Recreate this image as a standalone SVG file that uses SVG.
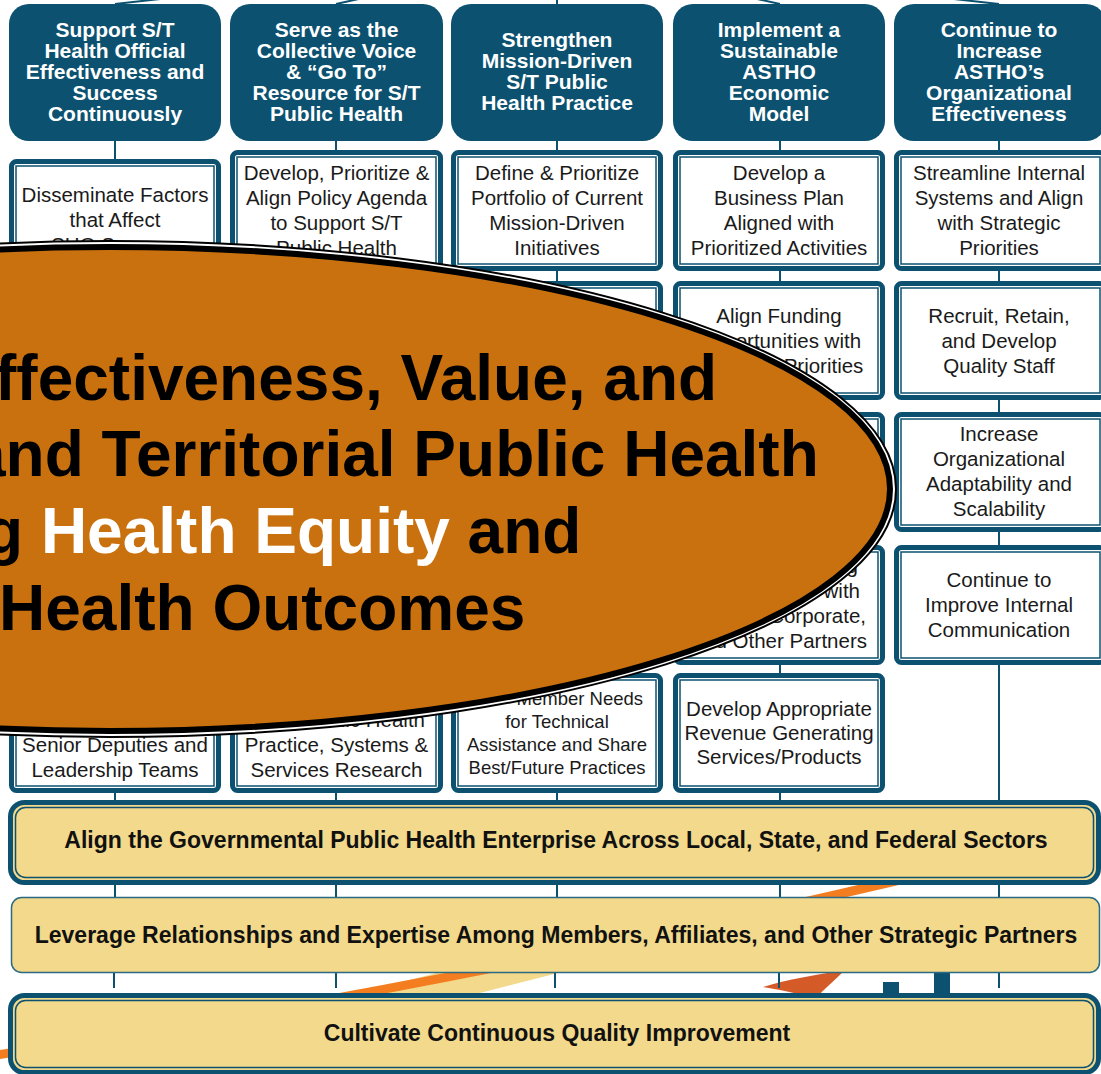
<svg xmlns="http://www.w3.org/2000/svg" width="1101" height="1074" viewBox="0 0 1101 1074">
<defs>
<style>
.hdr{fill:#0c5270;}
.ht{font-family:"Liberation Sans",Arial,sans-serif;font-weight:bold;font-size:21px;fill:#ffffff;text-anchor:middle;}
.bo{fill:#ffffff;stroke:#0c5270;stroke-width:5;}
.bi{fill:none;stroke:#0c5270;stroke-width:1.5;}
.bt{font-family:"Liberation Sans",Arial,sans-serif;font-size:20.5px;fill:#1a1a1a;text-anchor:middle;}
.bs{font-size:18.5px;}
.conn{stroke:#0c5270;stroke-width:2;fill:none;}
.bando{fill:#f2d98b;stroke:#0c5270;stroke-width:5;}
.bandi{fill:none;stroke:#0c5270;stroke-width:1.5;}
.bandt{font-family:"Liberation Sans",Arial,sans-serif;font-weight:bold;font-size:23px;fill:#111111;text-anchor:middle;}
.et{font-family:"Liberation Sans",Arial,sans-serif;font-weight:bold;font-size:64px;fill:#000000;}
</style>
</defs>
<rect width="1101" height="1074" fill="#ffffff"/>

<g id="background">
<path d="M440 972 L562 972 L468 996 L350 996 Z" fill="#f2d98b"/>
<path d="M-10 1056 Q430 990 900 880" fill="none" stroke="#f47d20" stroke-width="9"/>
<path d="M845 970 C815 975 785 980 763 987 C782 990 800 994 815 999 C825 988 835 980 845 970 Z" fill="#d45b27"/>
<rect x="883" y="982" width="16" height="16" fill="#0c5270"/>
<rect x="934" y="965" width="16" height="33" fill="#0c5270"/>
</g>

<g id="connectors">
<line class="conn" x1="115" y1="4" x2="557" y2="-45"/>
<line class="conn" x1="336" y1="4" x2="557" y2="-45"/>
<line class="conn" x1="557" y1="4" x2="557" y2="-45"/>
<line class="conn" x1="780" y1="4" x2="557" y2="-45"/>
<line class="conn" x1="999" y1="4" x2="557" y2="-45"/>
<line class="conn" x1="115" y1="141" x2="115" y2="802"/>
<line class="conn" x1="336" y1="141" x2="336" y2="802"/>
<line class="conn" x1="557" y1="141" x2="557" y2="802"/>
<line class="conn" x1="780" y1="141" x2="780" y2="802"/>
<line class="conn" x1="999" y1="141" x2="999" y2="802"/>
<line class="conn" x1="115" y1="884" x2="115" y2="898"/>
<line class="conn" x1="336" y1="884" x2="336" y2="898"/>
<line class="conn" x1="557" y1="884" x2="557" y2="898"/>
<line class="conn" x1="780" y1="884" x2="780" y2="898"/>
<line class="conn" x1="999" y1="884" x2="999" y2="898"/>
<line class="conn" x1="114" y1="973" x2="114" y2="988" stroke-width="1.5"/>
<line class="conn" x1="336" y1="973" x2="336" y2="988" stroke-width="1.5"/>
<line class="conn" x1="555" y1="973" x2="555" y2="988" stroke-width="1.5"/>
<line class="conn" x1="779" y1="973" x2="779" y2="988" stroke-width="1.5"/>
<line class="conn" x1="999" y1="973" x2="999" y2="988" stroke-width="1.5"/>
</g>

<g id="h1"><rect class="hdr" x="9" y="4" width="212" height="137" rx="20"/>
<text class="ht" x="115" y="36.5">Support S/T</text><text class="ht" x="115" y="57.5">Health Official</text><text class="ht" x="115" y="78.5">Effectiveness and</text><text class="ht" x="115" y="99.5">Success</text><text class="ht" x="115" y="120.5">Continuously</text></g>
<g id="h2"><rect class="hdr" x="230" y="4" width="213" height="137" rx="20"/>
<text class="ht" x="336.5" y="36.5">Serve as the</text><text class="ht" x="336.5" y="57.5">Collective Voice</text><text class="ht" x="336.5" y="78.5">&amp; “Go To”</text><text class="ht" x="336.5" y="99.5">Resource for S/T</text><text class="ht" x="336.5" y="120.5">Public Health</text></g>
<g id="h3"><rect class="hdr" x="451" y="4" width="212" height="137" rx="20"/>
<text class="ht" x="557" y="46.5">Strengthen</text><text class="ht" x="557" y="67.5">Mission-Driven</text><text class="ht" x="557" y="88.5">S/T Public</text><text class="ht" x="557" y="109.5">Health Practice</text></g>
<g id="h4"><rect class="hdr" x="673" y="4" width="212" height="137" rx="20"/>
<text class="ht" x="779" y="36.5">Implement a</text><text class="ht" x="779" y="57.5">Sustainable</text><text class="ht" x="779" y="78.5">ASTHO</text><text class="ht" x="779" y="99.5">Economic</text><text class="ht" x="779" y="120.5">Model</text></g>
<g id="h5"><rect class="hdr" x="894" y="4" width="212" height="137" rx="20"/>
<text class="ht" x="999" y="36.5">Continue to</text><text class="ht" x="999" y="57.5">Increase</text><text class="ht" x="999" y="78.5">ASTHO’s</text><text class="ht" x="999" y="99.5">Organizational</text><text class="ht" x="999" y="120.5">Effectiveness</text></g>

<g id="b1-1"><rect class="bo" x="11.5" y="161.5" width="207" height="117" rx="5"/><rect class="bi" x="16" y="166" width="198" height="108"/>
<text class="bt" x="115" y="202">Disseminate Factors</text><text class="bt" x="115" y="227">that Affect</text><text class="bt" x="115" y="252">SHO Success</text></g>
<g id="b1-5"><rect class="bo" x="11.5" y="674.5" width="207" height="116" rx="5"/><rect class="bi" x="16" y="679" width="198" height="107"/>
<text class="bt" x="115" y="752">Senior Deputies and</text><text class="bt" x="115" y="777">Leadership Teams</text></g>

<g id="b2-1"><rect class="bo" x="232.5" y="152.5" width="208" height="116" rx="5"/><rect class="bi" x="237" y="157" width="199" height="107"/>
<text class="bt" x="336.5" y="180">Develop, Prioritize &amp;</text><text class="bt" x="336.5" y="205">Align Policy Agenda</text><text class="bt" x="336.5" y="230">to Support S/T</text><text class="bt" x="336.5" y="255">Public Health</text></g>
<g id="b2-5"><rect class="bo" x="232.5" y="675.5" width="208" height="115" rx="5"/><rect class="bi" x="237" y="680" width="199" height="106"/>
<text class="bt" x="425" y="727" text-anchor="end" style="text-anchor:end">Public Health</text><text class="bt" x="336.5" y="752">Practice, Systems &amp;</text><text class="bt" x="336.5" y="777">Services Research</text></g>

<g id="b3-1"><rect class="bo" x="453.5" y="152.5" width="207" height="116" rx="5"/><rect class="bi" x="458" y="157" width="198" height="107"/>
<text class="bt" x="557" y="180">Define &amp; Prioritize</text><text class="bt" x="557" y="205">Portfolio of Current</text><text class="bt" x="557" y="230">Mission-Driven</text><text class="bt" x="557" y="255">Initiatives</text></g>
<g id="b3-2"><rect class="bo" x="453.5" y="283.5" width="207" height="114" rx="5"/><rect class="bi" x="458" y="288" width="198" height="105"/></g>
<g id="b3-3"><rect class="bo" x="453.5" y="414.5" width="207" height="115" rx="5"/><rect class="bi" x="458" y="419" width="198" height="106"/></g>
<g id="b3-4"><rect class="bo" x="453.5" y="547.5" width="207" height="115" rx="5"/><rect class="bi" x="458" y="552" width="198" height="106"/></g>
<g id="b3-5"><rect class="bo" x="453.5" y="675.5" width="207" height="115" rx="5"/><rect class="bi" x="458" y="680" width="198" height="106"/>
<text class="bt bs" x="643" y="704.5" style="text-anchor:end">Member Needs</text><text class="bt bs" x="557" y="727.5">for Technical</text><text class="bt bs" x="557" y="750.5">Assistance and Share</text><text class="bt bs" x="557" y="773.5">Best/Future Practices</text></g>

<g id="b4-1"><rect class="bo" x="675.5" y="152.5" width="207" height="116" rx="5"/><rect class="bi" x="680" y="157" width="198" height="107"/>
<text class="bt" x="779" y="180">Develop a</text><text class="bt" x="779" y="205">Business Plan</text><text class="bt" x="779" y="230">Aligned with</text><text class="bt" x="779" y="255">Prioritized Activities</text></g>
<g id="b4-2"><rect class="bo" x="675.5" y="283.5" width="207" height="114" rx="5"/><rect class="bi" x="680" y="288" width="198" height="105"/>
<text class="bt" x="779" y="323">Align Funding</text><text class="bt" x="779" y="348">Opportunities with</text><text class="bt" x="823.5" y="373">Priorities</text></g>
<g id="b4-3"><rect class="bo" x="675.5" y="414.5" width="207" height="115" rx="5"/><rect class="bi" x="680" y="419" width="198" height="106"/></g>
<g id="b4-4"><rect class="bo" x="675.5" y="547.5" width="207" height="115" rx="5"/><rect class="bi" x="680" y="552" width="198" height="106"/>
<text class="bt" x="858" y="573" style="text-anchor:end">g</text><text class="bt" x="860" y="598" style="text-anchor:end">s with</text><text class="bt" x="866" y="623" style="text-anchor:end">Corporate,</text><text class="bt" x="867" y="648" style="text-anchor:end">and Other Partners</text></g>
<g id="b4-5"><rect class="bo" x="675.5" y="675.5" width="207" height="115" rx="5"/><rect class="bi" x="680" y="680" width="198" height="106"/>
<text class="bt" x="779" y="716">Develop Appropriate</text><text class="bt" x="779" y="740">Revenue Generating</text><text class="bt" x="779" y="764">Services/Products</text></g>

<g id="b5-1"><rect class="bo" x="896.5" y="152.5" width="208" height="116" rx="5"/><rect class="bi" x="901" y="157" width="199" height="107"/>
<text class="bt" x="999" y="180">Streamline Internal</text><text class="bt" x="999" y="205">Systems and Align</text><text class="bt" x="999" y="230">with Strategic</text><text class="bt" x="999" y="255">Priorities</text></g>
<g id="b5-2"><rect class="bo" x="896.5" y="283.5" width="208" height="114" rx="5"/><rect class="bi" x="901" y="288" width="199" height="105"/>
<text class="bt" x="999" y="323">Recruit, Retain,</text><text class="bt" x="999" y="348">and Develop</text><text class="bt" x="999" y="373">Quality Staff</text></g>
<g id="b5-3"><rect class="bo" x="896.5" y="414.5" width="208" height="115" rx="5"/><rect class="bi" x="901" y="419" width="199" height="106"/>
<text class="bt" x="999" y="441">Increase</text><text class="bt" x="999" y="466">Organizational</text><text class="bt" x="999" y="491">Adaptability and</text><text class="bt" x="999" y="516">Scalability</text></g>
<g id="b5-4"><rect class="bo" x="896.5" y="547.5" width="208" height="115" rx="5"/><rect class="bi" x="901" y="552" width="199" height="106"/>
<text class="bt" x="999" y="587">Continue to</text><text class="bt" x="999" y="612">Improve Internal</text><text class="bt" x="999" y="637">Communication</text></g>

<g id="band1"><rect class="bando" x="10.5" y="802.5" width="1088" height="80" rx="14"/><rect class="bandi" x="15.5" y="807.5" width="1078" height="70" rx="10"/>
<text class="bandt" x="556" y="848">Align the Governmental Public Health Enterprise Across Local, State, and Federal Sectors</text></g>
<g id="band2"><rect x="11.5" y="897.5" width="1088" height="75" rx="10" fill="#f2d98b" stroke="#2a6a85" stroke-width="1.5"/>
<text class="bandt" x="556" y="943">Leverage Relationships and Expertise Among Members, Affiliates, and Other Strategic Partners</text></g>
<g id="band3"><rect class="bando" x="10.5" y="995.5" width="1088" height="77" rx="14"/><rect class="bandi" x="15.5" y="1000.5" width="1078" height="67" rx="10"/>
<text class="bandt" x="557" y="1041">Cultivate Continuous Quality Improvement</text></g>

<g id="goal">
<ellipse cx="110" cy="489" rx="786" ry="248" fill="#ffffff" stroke="#000000" stroke-width="2"/>
<ellipse cx="110" cy="489" rx="780" ry="242" fill="#c9710f" stroke="#000000" stroke-width="6"/>
<text class="et" x="-5" y="400">ffectiveness, Value, and</text>
<text class="et" x="-30" y="476">and Territorial Public Health</text>
<text class="et" x="-16" y="553">g <tspan fill="#ffffff">Health Equity</tspan> and</text>
<text class="et" x="-1" y="630">Health Outcomes</text>
</g>
</svg>
